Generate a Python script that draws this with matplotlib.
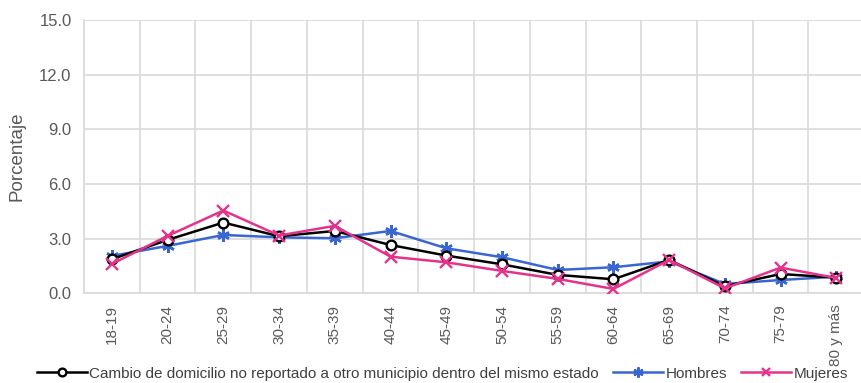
import numpy as np
import matplotlib
matplotlib.use("Agg")
import matplotlib.pyplot as plt

plt.rcParams["font.family"] = ["Liberation Sans", "DejaVu Sans"]

EDADES = ["18-19", "20-24", "25-29", "30-34", "35-39", "40-44", "45-49",
          "50-54", "55-59", "60-64", "65-69", "70-74", "75-79", "80 y más"]
TOTAL = [1.88, 2.94, 3.89, 3.14, 3.43, 2.66, 2.08, 1.60, 1.02, 0.78, 1.84, 0.40, 1.07, 0.87]
HOMBRES = [2.06, 2.61, 3.21, 3.08, 3.03, 3.43, 2.48, 1.99, 1.29, 1.44, 1.76, 0.52, 0.74, 0.92]
MUJERES = [1.62, 3.16, 4.55, 3.18, 3.71, 2.02, 1.71, 1.24, 0.80, 0.25, 1.84, 0.28, 1.42, 0.85]

LBL_TOTAL = "Cambio de domicilio no reportado a otro municipio dentro del mismo estado"
GRIS = "#595959"
GRID = "#d9d9d9"

fig = plt.figure(figsize=(8.62, 3.83), dpi=100)
ax = fig.add_axes([0.0975, 0.2337, 0.905, 0.7141])

x = np.arange(len(EDADES))
ax.plot(x, TOTAL, color="black", lw=1.8, marker="o", ms=7,
        mfc="white", mec="black", mew=1.7, label=LBL_TOTAL, zorder=3)
ax.plot(x, HOMBRES, color="#3a66d1", lw=1.8, marker=(6, 2, 0), ms=9,
        mew=1.8, label="Hombres", zorder=2)
ax.plot(x, MUJERES, color="#e5338c", lw=1.8, marker="x", ms=8,
        mew=1.7, label="Mujeres", zorder=4)

ax.set_xlim(-0.5, len(EDADES) - 0.5)
ax.set_ylim(0, 15)
ax.set_yticks(np.arange(0, 15.1, 3))
ax.set_yticklabels([f"{v:.1f}" for v in np.arange(0, 15.1, 3)])
ax.set_xticks(x)
ax.set_xticklabels(EDADES, rotation=90)
ax.set_xticks(np.arange(-0.5, len(EDADES)), minor=True)

ax.grid(axis="y", color=GRID, lw=1.2)
ax.grid(axis="x", which="minor", color=GRID, lw=1.2)
ax.set_axisbelow(True)
ax.tick_params(which="both", length=0, labelsize=11, colors=GRIS)
ax.tick_params(axis="y", pad=9, labelsize=12)
ax.tick_params(axis="x", pad=8)
for s in ["top", "right"]:
    ax.spines[s].set_visible(False)
for s in ["left", "bottom"]:
    ax.spines[s].set_color(GRID)
    ax.spines[s].set_linewidth(1.2)

ax.set_ylabel("Porcentaje", fontsize=13.5, color=GRIS, labelpad=10)

fig.legend(loc="lower center", bbox_to_anchor=(0.513, -0.03), ncol=3,
           frameon=False, fontsize=11, handlelength=3.3, handletextpad=0.15,
           columnspacing=0.9, labelcolor="#404040", markerscale=0.8)

fig.savefig("out.png", dpi=100)
